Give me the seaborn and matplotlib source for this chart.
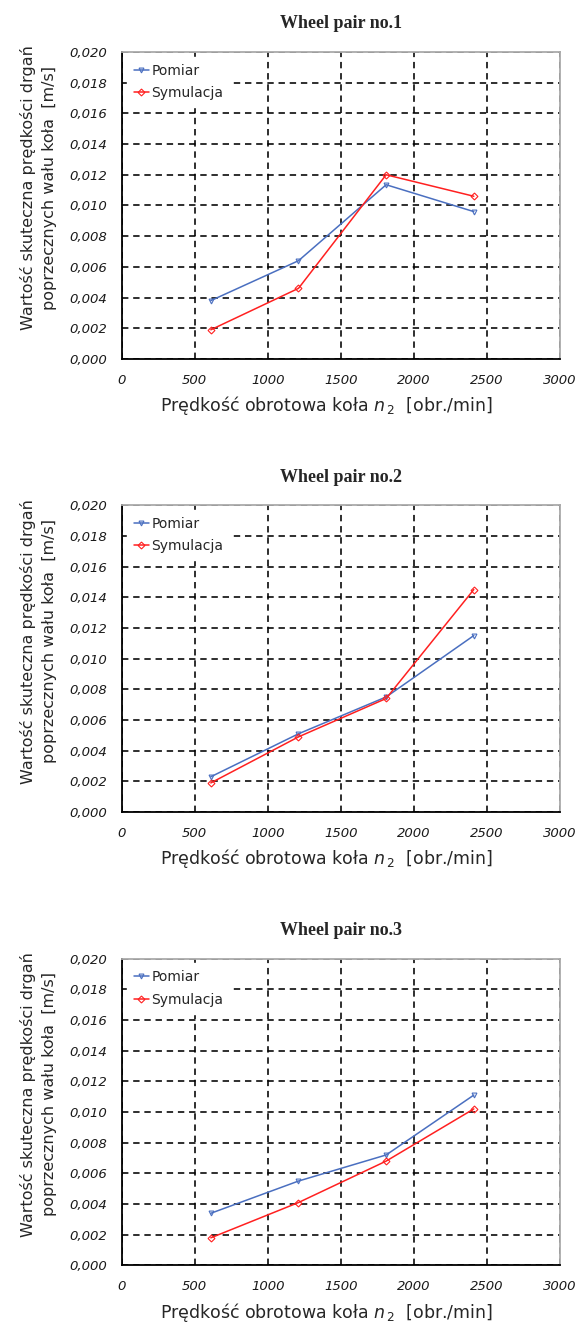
import matplotlib
matplotlib.use("Agg")
import matplotlib.pyplot as plt
import seaborn as sns
import pandas as pd
from matplotlib.ticker import FuncFormatter, MultipleLocator

sns.set_theme(style="white")
plt.rcParams['font.family'] = ['DejaVu Sans']

rpm = [610, 1210, 1810, 2410]
titles = ["Wheel pair no.1", "Wheel pair no.2", "Wheel pair no.3"]
pomiar = [
    [0.0038, 0.0064, 0.01135, 0.0096],
    [0.0023, 0.0051, 0.0075, 0.0115],
    [0.0034, 0.0055, 0.0072, 0.0111],
]
symulacja = [
    [0.0019, 0.0046, 0.0120, 0.0106],
    [0.0019, 0.0049, 0.0074, 0.0145],
    [0.0018, 0.0041, 0.0068, 0.0102],
]
series_names = ["Pomiar", "Symulacja"]
colors = {"Pomiar": "#4a6fc0", "Symulacja": "#ff2020"}
markers = {"Pomiar": "v", "Symulacja": "D"}

fig = plt.figure(figsize=(5.75, 13.23), dpi=100)
ax_pos = [
    [0.2117, 0.7287, 0.7622, 0.2320],
    [0.2117, 0.3862, 0.7622, 0.2320],
    [0.2117, 0.0435, 0.7622, 0.2320],
]

fmt = FuncFormatter(lambda v, p: f"{v:.3f}".replace(".", ","))

for i in range(3):
    ax = fig.add_axes(ax_pos[i])
    df = pd.DataFrame({
        "rpm": rpm * 2,
        "v": pomiar[i] + symulacja[i],
        "series": [series_names[0]] * 4 + [series_names[1]] * 4,
    })
    for s in series_names:
        d = df[df.series == s]
        sns.lineplot(data=d, x="rpm", y="v", ax=ax, color=colors[s], lw=1.1,
                     marker=markers[s], markersize=3.5, markerfacecolor="none",
                     markeredgecolor=colors[s], markeredgewidth=0.8, label=s)
    ax.set_xlim(0, 3000)
    ax.set_ylim(0, 0.020)
    ax.xaxis.set_major_locator(MultipleLocator(500))
    ax.yaxis.set_major_locator(MultipleLocator(0.002))
    ax.yaxis.set_major_formatter(fmt)
    ax.grid(True, color="black", linestyle=(0, (4, 3)), linewidth=1.15)
    ax.set_axisbelow(True)
    for sp in ["top", "right"]:
        ax.spines[sp].set_color("#aaaaaa")
        ax.spines[sp].set_linewidth(1.3)
    for sp in ["left", "bottom"]:
        ax.spines[sp].set_color("black")
        ax.spines[sp].set_linewidth(1.3)
    ax.tick_params(axis="both", which="major", direction="inout", length=9,
                   width=1.1, color="black", labelsize=9.5)
    ax.tick_params(axis="y", pad=6)
    ax.tick_params(axis="x", pad=6)
    for lab in ax.get_xticklabels() + ax.get_yticklabels():
        lab.set_fontstyle("italic")
        lab.set_color("#1a1a1a")
    ax.set_title(titles[i], fontsize=13, fontweight="bold",
                 family=["Liberation Serif", "DejaVu Serif"], pad=17)
    ax.set_xlabel(r"Prędkość obrotowa koła $\it{n}$$_{\,2}$  [obr./min]",
                  fontsize=12.5)
    ax.xaxis.set_label_coords(0.468, -0.115)
    ax.set_ylabel("Wartość skuteczna prędkości drgań\npoprzecznych wału koła  [m/s]",
                  fontsize=11.5, linespacing=1.5)
    ax.yaxis.set_label_coords(-0.148, 0.557)
    leg = ax.legend(loc="upper left", frameon=True, fontsize=10,
                    handlelength=1.1, handletextpad=0.2, borderpad=0.5,
                    labelspacing=0.6, borderaxespad=0.35)
    leg.get_frame().set_facecolor("white")
    leg.get_frame().set_edgecolor("white")
    leg.get_frame().set_alpha(1.0)

fig.savefig("out.png", dpi=100, facecolor="white")
